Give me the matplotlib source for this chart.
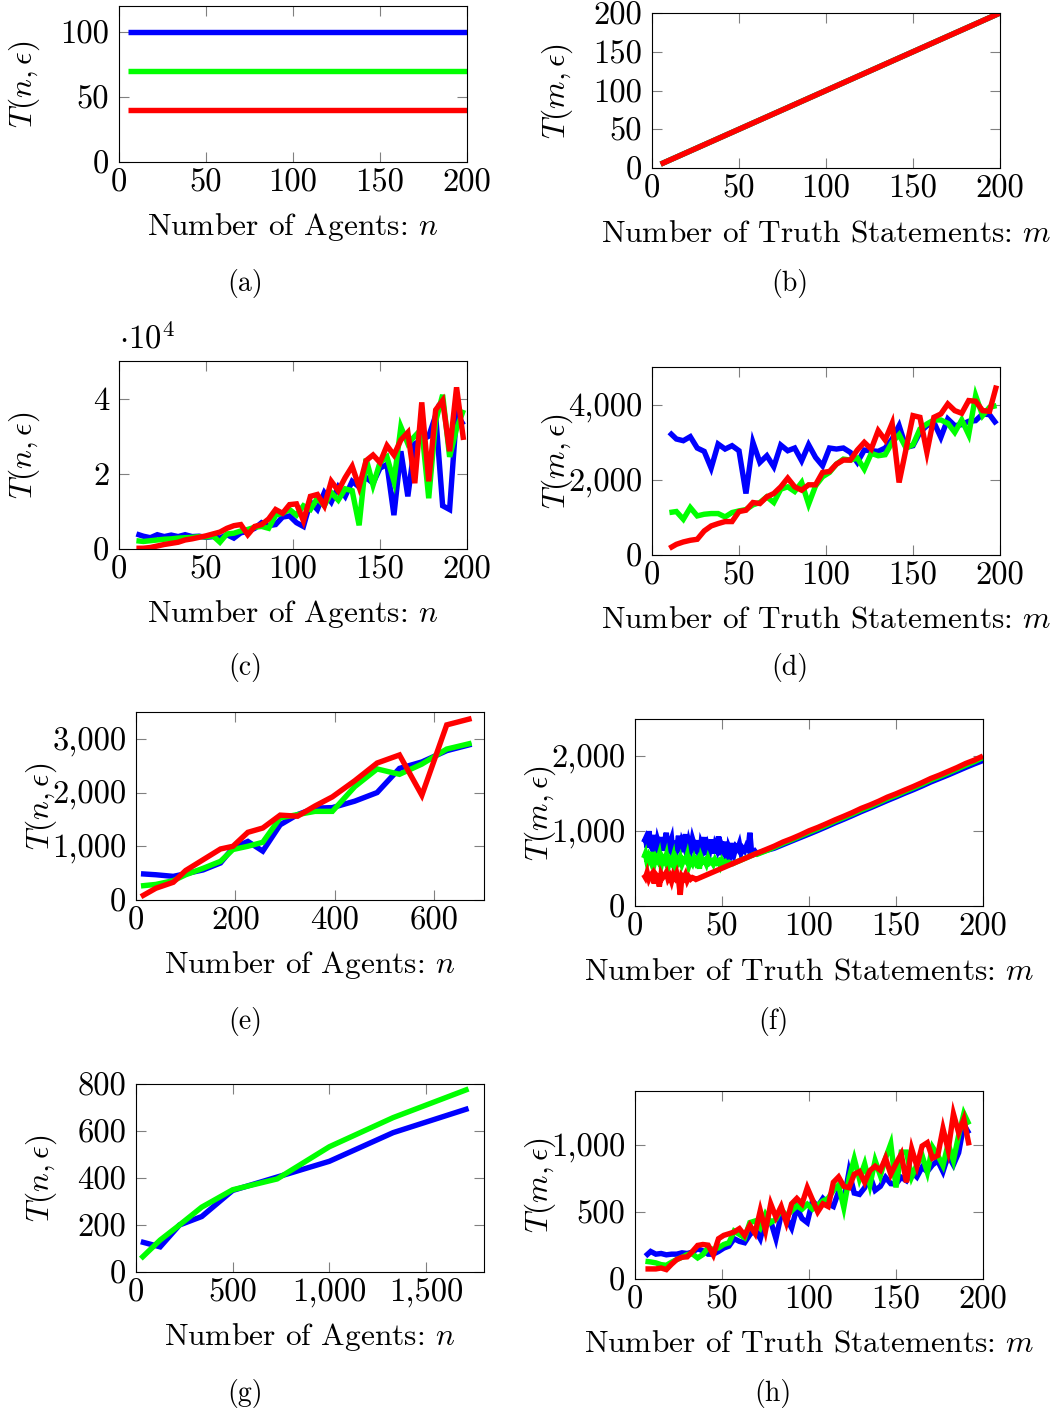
import numpy as np
import matplotlib
matplotlib.use("Agg")
import matplotlib.pyplot as plt
from matplotlib.ticker import FuncFormatter

plt.rcParams['font.family'] = 'cmr10'
plt.rcParams['mathtext.fontset'] = 'cm'
plt.rcParams['axes.unicode_minus'] = False
plt.rcParams['axes.formatter.use_mathtext'] = True

BLUE, GREEN, RED = '#0000ff', '#00ff00', '#ff0000'

# (a) T vs number of agents, constant
a_n = [5, 50, 100, 150, 200]
a_blue = [100, 100, 100, 100, 100]
a_green = [70, 70, 70, 70, 70]
a_red = [40, 40, 40, 40, 40]

# (b) T vs number of truth statements, T = m for all three
b_m = [5, 50, 100, 150, 200]
b_T = [5, 50, 100, 150, 200]

# (c) agents, step 4
c_n = list(range(10, 199, 4))
c_blue = [4000, 3400, 3000, 3800, 3300, 3700, 3300, 3800, 3300, 3400,
          3100, 3300, 2900, 3800, 2900, 4300, 4700, 5500, 7000, 6200,
          6500, 8500, 8800, 7000, 6000, 12500, 10500, 15000, 12500, 16500,
          14000, 18000, 16500, 19000, 17500, 21500, 22500, 9000, 26000, 14000,
          28000, 29000, 30000, 35500, 11500, 10500, 36000, 33000]
c_green = [2200, 2000, 2200, 2400, 2600, 2700, 2900, 3000, 3100, 3300,
           3200, 3500, 1800, 4000, 4200, 4800, 5200, 5800, 6000, 5500,
           9000, 9500, 10500, 9000, 11500, 10500, 13500, 11500, 15000, 13000,
           16000, 15500, 6300, 24000, 17000, 23000, 24500, 18000, 32500, 28000,
           30000, 32000, 13500, 34000, 41000, 24500, 32000, 37000]
c_red = [200, 200, 400, 800, 1200, 1500, 1800, 2400, 2700, 3100,
         3500, 4000, 4500, 5500, 6200, 6500, 3800, 6000, 6500, 8000,
         10500, 9500, 11800, 12000, 7500, 14000, 14500, 11500, 18000, 15500,
         19000, 22000, 16500, 23500, 25000, 23000, 27500, 25000, 29000, 31000,
         17500, 39000, 18000, 37000, 39500, 26000, 43000, 29000]

# (d) truth statements, step 4
d_m = list(range(10, 199, 4))
d_blue = [3262, 3085, 3040, 3147, 2845, 2756, 2311, 2951, 2818, 2907,
          2773, 1636, 2996, 2462, 2640, 2347, 2924, 2773, 2845, 2507,
          2933, 2596, 2373, 2845, 2818, 2845, 2729, 2462, 2791, 2773,
          2756, 2845, 3085, 3440, 2862, 2907, 3262, 3440, 3529, 3129,
          3618, 3440, 3467, 3556, 3574, 3751, 3733, 3484]
d_green = [1129, 1156, 951, 1262, 1040, 1084, 1102, 1102, 1013, 1129,
           1173, 1209, 1333, 1396, 1547, 1396, 1751, 1813, 1689, 1929,
           1351, 1840, 2080, 2196, 2418, 2551, 2524, 2578, 2285, 2702,
           2640, 2667, 2996, 3200, 2845, 2933, 3351, 3485, 3591, 3591,
           3502, 3262, 3591, 3200, 4240, 3707, 3929, 3973]
d_red = [178, 284, 347, 391, 418, 640, 773, 836, 889, 889,
         1156, 1191, 1396, 1369, 1547, 1636, 1813, 2044, 1813, 1724,
         1867, 1867, 2196, 2222, 2418, 2524, 2524, 2791, 2996, 2818,
         3307, 3058, 3502, 1929, 2818, 3707, 3662, 2729, 3662, 3751,
         4018, 3840, 3769, 4107, 4089, 3840, 3822, 4507]

# (e) agents up to ~700
e_n = [10, 40, 75, 100, 135, 170, 195, 225, 255, 290, 325, 360, 395, 440, 485, 530, 575, 625, 675]
e_blue = [488, 470, 440, 490, 560, 690, 970, 1090, 910, 1400, 1590, 1710, 1720, 1840, 2000, 2450, 2570, 2780, 2900]
e_green = [262, 290, 360, 470, 590, 720, 940, 1000, 1075, 1530, 1590, 1650, 1650, 2110, 2440, 2340, 2530, 2810, 2920]
e_red = [62, 219, 330, 550, 750, 950, 1000, 1260, 1340, 1580, 1560, 1750, 1920, 2220, 2550, 2700, 1950, 3260, 3380]

# (f) truth statements: step 1 up to 69, then step 5
f_m = list(range(5, 70)) + list(range(70, 201, 5))
f_blue = [850, 900, 780, 1000, 820, 760, 950, 700, 880, 800,
          920, 740, 860, 980, 700, 830, 900, 650, 870, 780,
          940, 720, 860, 800, 960, 690, 850, 760, 900, 820,
          700, 880, 620, 840, 780, 920, 680, 810, 750, 890,
          700, 820, 760, 930, 680, 800, 740, 860, 520, 780,
          720, 840, 700, 790, 760, 830, 710, 770, 740, 800,
          760, 980, 720, 700, 730,
          700, 740, 772, 820, 868, 915, 962, 1010, 1060, 1112, 1160, 1210, 1262, 1310,
          1360, 1410, 1458, 1508, 1555, 1605, 1658, 1705, 1752, 1802, 1852, 1900, 1945]
f_green = [640, 700, 580, 660, 600, 720, 560, 650, 610, 690,
           540, 640, 600, 680, 520, 620, 580, 660, 470, 630,
           590, 650, 560, 620, 600, 680, 540, 610, 570, 640,
           580, 620, 500, 650, 590, 610, 560, 640, 580, 600,
           560, 620, 580, 600, 540, 610, 570, 590, 560, 580,
           560, 565, 575, 585, 595, 605, 615, 625, 635, 645,
           655, 665, 675, 685, 695,
           690, 735, 785, 838, 885, 935, 985, 1032, 1082, 1135, 1182, 1232, 1285, 1330,
           1382, 1435, 1480, 1532, 1580, 1630, 1685, 1730, 1780, 1830, 1882, 1930, 1985]
f_red = [420, 380, 450, 360, 410, 440, 300, 420, 390, 260,
         430, 380, 410, 450, 360, 400, 330, 420, 380, 440,
         350, 150, 400, 370, 420, 340, 390, 360, 380, 370,
         355, 365, 375, 385, 395, 405, 415, 425, 435, 445,
         455, 465, 475, 485, 495, 505, 515, 525, 535, 545,
         555, 565, 575, 585, 595, 605, 615, 625, 635, 645,
         655, 665, 675, 685, 695,
         705, 752, 800, 855, 900, 950, 1005, 1050, 1100, 1152, 1200, 1250, 1305, 1350,
         1400, 1455, 1500, 1550, 1598, 1650, 1705, 1750, 1800, 1850, 1905, 1950, 2005]

# (g) agents up to ~1800 (two series)
g_n = [25, 125, 225, 340, 500, 730, 1000, 1330, 1720]
g_blue = [129, 107, 200, 236, 347, 404, 471, 593, 696]
g_green = [57, 136, 200, 276, 350, 396, 533, 657, 779]

# (h) truth statements, step 3
h_m = list(range(6, 193, 3))
h_blue = [170, 205, 185, 190, 180, 185, 185, 195, 190, 200,
          225, 210, 185, 185, 205, 230, 245, 300, 280, 270,
          330, 370, 300, 450, 430, 300, 480, 455, 380, 530,
          450, 420, 582, 540, 600, 560, 540, 650, 580, 800,
          640, 630, 680, 770, 660, 690, 757, 710, 707, 757,
          732, 800, 760, 832, 800, 850, 880, 800, 920, 850,
          940, 1150, 1082]
h_green = [132, 127, 120, 107, 102, 125, 145, 162, 182, 187,
           157, 182, 232, 220, 232, 257, 270, 357, 332, 307,
           420, 432, 382, 482, 420, 445, 520, 470, 507, 545,
           520, 557, 520, 550, 582, 600, 660, 700, 532, 750,
           895, 745, 857, 700, 882, 770, 900, 1007, 682, 945,
           945, 760, 850, 920, 795, 982, 920, 845, 1007, 882,
           1070, 1232, 1150]
h_red = [75, 75, 75, 82, 70, 110, 145, 162, 165, 205,
         250, 257, 252, 180, 300, 325, 337, 350, 375, 325,
         400, 340, 510, 360, 560, 460, 540, 420, 560, 600,
         560, 680, 590, 500, 560, 540, 720, 760, 690, 680,
         780, 800, 720, 807, 840, 810, 900, 780, 860, 930,
         720, 970, 840, 990, 1015, 900, 920, 1120, 960, 1230,
         1090, 1190, 995]

W, H = 1055, 1412
fig = plt.figure(figsize=(W / 100, H / 100), dpi=100)

xlab_n = 'Number of Agents: $n$'
xlab_m = 'Number of Truth Statements: $m$'
ylab_n = r'$T(n,\epsilon)$'
ylab_m = r'$T(m,\epsilon)$'

comma = FuncFormatter(lambda v, p: f"{v:,.0f}")
e4 = FuncFormatter(lambda v, p: f"{v / 1e4:.0f}")

FS_TICK = 23.5
FS_LAB = 22.6


def panel(box, xlim, ylim, xticks, yticks, xlabel, ylabel, yfmt=comma):
    l, t, r, b = box
    ax = fig.add_axes([l / W, 1 - b / H, (r - l) / W, (b - t) / H])
    ax.set_xlim(xlim)
    ax.set_ylim(ylim)
    ax.set_xticks(xticks)
    ax.set_yticks(yticks)
    ax.xaxis.set_major_formatter(comma)
    ax.yaxis.set_major_formatter(yfmt)
    ax.tick_params(direction='in', length=7, width=0.8, color='#808080',
                   top=True, right=True, labelsize=FS_TICK)
    ax.tick_params(axis='x', pad=5)
    ax.tick_params(axis='y', pad=7)
    for s in ax.spines.values():
        s.set_linewidth(0.8)
    ax.set_xlabel(xlabel, fontsize=FS_LAB)
    ax.set_ylabel(ylabel, fontsize=FS_LAB)
    ax.xaxis.label.set_va('baseline')
    ax.xaxis.set_label_coords(0.5, -73 / (b - t))
    ax.yaxis.set_label_coords(-77 / (r - l), 0.5)
    return ax


def lines(ax, x, series):
    for y, c in series:
        ax.plot(x, y, color=c, lw=3.9, solid_joinstyle='miter', solid_capstyle='butt')


ticks200 = [0, 50, 100, 150, 200]

ax = panel((119, 6, 467, 162), (0, 200), (0, 120), ticks200, [0, 50, 100], xlab_n, ylab_n)
lines(ax, a_n, [(a_blue, BLUE), (a_green, GREEN), (a_red, RED)])

ax = panel((652, 13, 1000, 168), (0, 200), (0, 200), ticks200, [0, 50, 100, 150, 200], xlab_m, ylab_m)
lines(ax, b_m, [(b_T, BLUE), (b_T, GREEN), (b_T, RED)])

ax = panel((119, 361, 467, 549), (0, 200), (0, 50000), ticks200, [0, 20000, 40000], xlab_n, ylab_n, e4)
lines(ax, c_n, [(c_blue, BLUE), (c_green, GREEN), (c_red, RED)])
ax.text(0.0, 1.035, r'$\cdot 10^4$', transform=ax.transAxes, fontsize=FS_TICK, ha='left', va='bottom')

ax = panel((652, 367, 1000, 555), (0, 200), (0, 5000), ticks200, [0, 2000, 4000], xlab_m, ylab_m)
lines(ax, d_m, [(d_blue, BLUE), (d_green, GREEN), (d_red, RED)])

ax = panel((136, 712, 484, 900), (0, 700), (0, 3500), [0, 200, 400, 600], [0, 1000, 2000, 3000], xlab_n, ylab_n)
lines(ax, e_n, [(e_blue, BLUE), (e_green, GREEN), (e_red, RED)])

ax = panel((635, 719, 983, 906), (0, 200), (0, 2500), ticks200, [0, 1000, 2000], xlab_m, ylab_m)
lines(ax, f_m, [(f_blue, BLUE), (f_green, GREEN), (f_red, RED)])

ax = panel((136, 1084, 484, 1272), (0, 1800), (0, 800), [0, 500, 1000, 1500], [0, 200, 400, 600, 800], xlab_n, ylab_n)
lines(ax, g_n, [(g_blue, BLUE), (g_green, GREEN)])

ax = panel((635, 1091, 983, 1279), (0, 200), (0, 1400), ticks200, [0, 500, 1000], xlab_m, ylab_m)
lines(ax, h_m, [(h_blue, BLUE), (h_green, GREEN), (h_red, RED)])

captions = [('(a)', 245, 283), ('(b)', 790, 283), ('(c)', 245, 668), ('(d)', 790, 668),
            ('(e)', 245, 1021), ('(f)', 773, 1021), ('(g)', 245, 1393), ('(h)', 773, 1393)]
for txt, x, y in captions:
    fig.text(x / W, 1 - y / H, txt, fontsize=20, ha='center', va='center')

fig.savefig('out.png', dpi=100)
